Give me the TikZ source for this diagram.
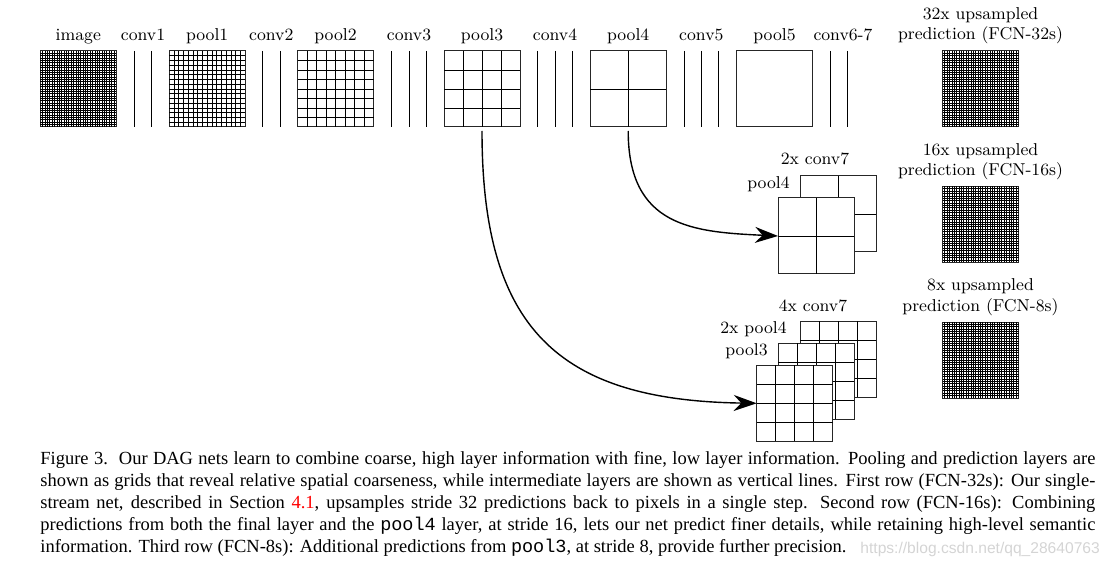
\documentclass[tikz,border=0pt]{standalone}
\usepackage{fontspec}
\usetikzlibrary{calc,arrows.meta}
\newfontfamily\capfont{Liberation Serif}
\newfontfamily\capmono{Liberation Mono}
\newfontfamily\wmfont{Liberation Sans}
\definecolor{linkred}{RGB}{255,0,0}
\definecolor{wmgray}{RGB}{212,212,212}
\newcommand\labfont{\fontsize{8.6}{10}\selectfont}
% grid box: [line style]{name}{x}{y}{cells}
\newcommand\gridbx[5][gl]{%
  \node[gbx] (#2) at (#3,#4) {};
  \pgfmathtruncatemacro\gridN{#5-1}%
  \ifnum\gridN>0
    \foreach \k in {1,...,\gridN}{%
      \draw[#1] ($(#2.north west)!{\k/#5}!(#2.north east)$) -- ($(#2.south west)!{\k/#5}!(#2.south east)$);
      \draw[#1] ($(#2.north west)!{\k/#5}!(#2.south west)$) -- ($(#2.north east)!{\k/#5}!(#2.south east)$);
    }%
  \fi}
\begin{document}
\begin{tikzpicture}[x=0.5pt,y=-0.5pt,
  gbx/.style={draw=black!85, line width=0.5pt, fill=white, minimum size=38pt, inner sep=0pt, outer sep=0pt},
  gl/.style={line width=0.45pt},
  finegl/.style={line width=0.42pt},
  convline/.style={line width=0.5pt},
  lab/.style={anchor=base, inner sep=0pt, font=\labfont},
  rlab/.style={anchor=base east, inner sep=0pt, font=\labfont},
  arr/.style={line width=0.7pt, -{Stealth[length=11.5pt,width=8pt,inset=3.8pt]}, shorten <=2pt},
]
\useasboundingbox (0,0) rectangle (1110,567);

% ---------- top row ----------
\gridbx[finegl]{image}{78.3}{89}{32}
\draw[convline] (134.3,51) -- (134.3,127);
\draw[convline] (151.7,51) -- (151.7,127);
\gridbx{pool1}{207.2}{89}{16}
\draw[convline] (262.7,51) -- (262.7,127);
\draw[convline] (280,51) -- (280,127);
\gridbx{pool2}{335.5}{89}{8}
\draw[convline] (391.7,51) -- (391.7,127);
\draw[convline] (409,51) -- (409,127);
\draw[convline] (426.3,51) -- (426.3,127);
\gridbx{pool3}{482}{89}{4}
\draw[convline] (537.3,51) -- (537.3,127);
\draw[convline] (555,51) -- (555,127);
\draw[convline] (572.7,51) -- (572.7,127);
\gridbx{pool4}{628.2}{89}{2}
\draw[convline] (684,51) -- (684,127);
\draw[convline] (701.3,51) -- (701.3,127);
\draw[convline] (718.7,51) -- (718.7,127);
\gridbx{pool5}{774.5}{89}{1}
\draw[convline] (830,51) -- (830,127);
\draw[convline] (847.3,51) -- (847.3,127);
\gridbx[finegl]{pred32}{980.5}{89}{32}

\node[lab] (limage) at (78.3,40.5) {image};
\node[lab] (lconv1) at (143,40.5) {conv1};
\node[lab] (lpool1) at (207.2,40.5) {pool1};
\node[lab] (lconv2) at (271.3,40.5) {conv2};
\node[lab] (lpool2) at (335.5,40.5) {pool2};
\node[lab] (lconv3) at (409,40.5) {conv3};
\node[lab] (lpool3) at (482,40.5) {pool3};
\node[lab] (lconv4) at (555,40.5) {conv4};
\node[lab] (lpool4) at (628.2,40.5) {pool4};
\node[lab] (lconv5) at (701.3,40.5) {conv5};
\node[lab] (lpool5) at (774.5,40.5) {pool5};
\node[lab] (lconv67) at (843,40.5) {conv6-7};
\node[lab] (l32a) at (980.5,19.5) {32x upsampled};
\node[lab] (l32b) at (980.5,40) {prediction (FCN-32s)};

% ---------- second row ----------
\gridbx{r2back}{838}{214}{2}
\gridbx{r2front}{816}{236}{2}
\gridbx[finegl]{pred16}{980.5}{224.5}{32}
\node[lab] (l2conv7) at (815,164.5) {2x conv7};
\node[rlab] (l2pool4) at (790,189) {pool4};
\node[lab] (l16a) at (980.5,155.5) {16x upsampled};
\node[lab] (l16b) at (980.5,176) {prediction (FCN-16s)};

% ---------- third row ----------
\gridbx{r3back}{838}{359}{4}
\gridbx{r3mid}{816.3}{381.3}{4}
\gridbx{r3front}{794.7}{403.3}{4}
\gridbx[finegl]{pred8}{980.5}{360}{32}
\node[lab] (l4conv7) at (813,312) {4x conv7};
\node[rlab] (l2xpool4) at (787,334) {2x pool4};
\node[rlab] (lpool3b) at (768,356) {pool3};
\node[lab] (l8a) at (980.5,291) {8x upsampled};
\node[lab] (l8b) at (980.5,311.5) {prediction (FCN-8s)};

% ---------- connectors ----------
\draw[arr] (pool4.south) .. controls +(0,100) and +(-85,-4) .. (r2front.west);
\draw[arr] (pool3.south) .. controls +(0,200) and +(-200,-3) .. (r3front.west);

% ---------- caption ----------
\node[anchor=base west, inner sep=0pt, text width=527.5pt, align=justify,
      font=\capfont\fontsize{9.25}{11.1}\selectfont] (caption) at (40,464)
{\hyphenpenalty=10000\tolerance=10000
Figure 3.\hspace{5.5pt}Our DAG nets learn to combine coarse, high layer information with fine, low layer information. Pooling and prediction layers are\linebreak
shown as grids that reveal relative spatial coarseness, while intermediate layers are shown as vertical lines. First row (FCN-32s): Our single-\linebreak
stream net, described in Section \textcolor{linkred}{4.1}, upsamples stride 32 predictions back to pixels in a single step. Second row (FCN-16s): Combining\linebreak
predictions from both the final layer and the {\capmono pool4} layer, at stride 16, lets our net predict finer details, while retaining high-level semantic\linebreak
information. Third row (FCN-8s): Additional predictions from {\capmono pool3}, at stride 8, provide further precision.};

\node[anchor=base west, inner sep=0pt, text=wmgray, font=\wmfont\fontsize{7.8}{8}\selectfont] (watermark) at (860,553) {https://blog.csdn.net/qq\_28640763};
\end{tikzpicture}
\end{document}
